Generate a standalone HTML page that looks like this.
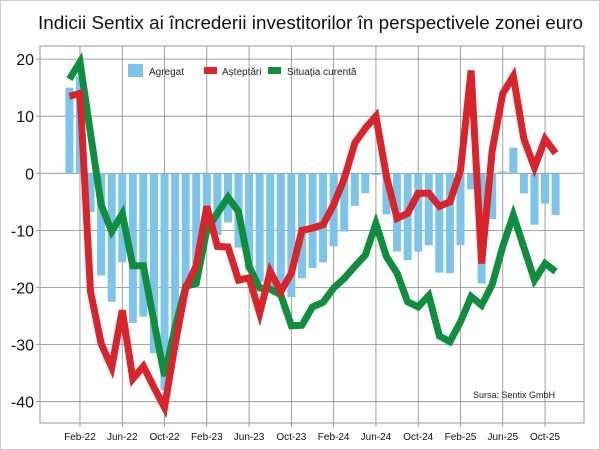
<!DOCTYPE html>
<html><head><meta charset="utf-8"><style>
html,body{margin:0;padding:0;background:#fff}
svg{display:block;font-family:"Liberation Sans",sans-serif}
</style></head><body>
<svg width="600" height="450" viewBox="0 0 600 450" xmlns="http://www.w3.org/2000/svg">
<rect x="0.5" y="0.5" width="599" height="449" fill="#fff" stroke="#ccc"/>
<text x="38" y="29" font-size="18.5" fill="#111" textLength="545" lengthAdjust="spacingAndGlyphs">Indicii Sentix ai încrederii investitorilor în perspectivele zonei euro</text>
<g id="grid" stroke="#8a8a8a" stroke-width="0.8"></g>
<rect x="40" y="46" width="544" height="377" fill="none" stroke="#999" stroke-width="1"/>
<g id="bars" fill="#7cc4ea"></g>
<g id="lines" fill="none" stroke-width="7" stroke-linejoin="miter" stroke-linecap="butt"></g>
<g id="ylab" font-size="16" fill="#111" text-anchor="end"></g>
<g id="xlab" font-size="10" fill="#111" text-anchor="middle"></g>
<rect x="128" y="64" width="15" height="13" fill="#7cc4ea"/>
<text x="149" y="75" font-size="10" fill="#222">Agregat</text>
<rect x="204" y="67" width="13" height="7" fill="#d8242a"/>
<text x="222" y="75" font-size="10" fill="#222">Așteptări</text>
<rect x="268" y="67" width="13" height="7" fill="#0f8f3e"/>
<text x="287" y="75" font-size="10" fill="#222">Situația curentă</text>
<text x="473" y="398" font-size="9" fill="#222">Sursa: Sentix GmbH</text>
</svg>
<script>
var NS="http://www.w3.org/2000/svg";
function X(i){return 69.4+10.57*i}
function Y(v){return 173.3-5.71*v}
function el(p,t,a){var e=document.createElementNS(NS,t);for(var k in a)e.setAttribute(k,a[k]);document.getElementById(p).appendChild(e);return e}
[20,10,0,-10,-20,-30,-40].forEach(function(v){el("grid","line",{x1:40,x2:584,y1:Y(v),y2:Y(v)});el("grid","line",{x1:36,x2:40,y1:Y(v),y2:Y(v)});
 var t=el("ylab","text",{x:34,y:Y(v)+6});t.textContent=v;});
var ml=["Feb-22","Jun-22","Oct-22","Feb-23","Jun-23","Oct-23","Feb-24","Jun-24","Oct-24","Feb-25","Jun-25","Oct-25"];
ml.forEach(function(m,k){var x=X(1+4*k);el("grid","line",{x1:x,x2:x,y1:46,y2:427});var t=el("xlab","text",{x:x,y:440});t.textContent=m;});
var bars=[15,17,-6.8,-17.9,-22.5,-15.6,-26.2,-25.1,-31.5,-38,-28,-20,-16,-9,-10.8,-8.6,-13,-17,-19,-20,-21,-21.7,-18.4,-16.6,-15.6,-12.8,-10.2,-5.7,-3.5,-0.3,-7.2,-13.7,-15.2,-13.7,-12.6,-17.4,-17.5,-12.6,-2.8,-19.3,-8,0.3,4.5,-3.5,-9,-5.3,-7.3];
bars.forEach(function(v,i){var y0=Y(0),y1=Y(v);el("bars","rect",{x:X(i)-4,y:Math.min(y0,y1),width:8,height:Math.abs(y1-y0)});});
var red=[13.5,14,-20.7,-29.8,-34,-24,-36,-33.8,-37.5,-41,-30,-20.1,-16.2,-5.8,-12.8,-12.9,-18.7,-18.3,-24.5,-17.2,-20.7,-17.5,-10,-9.6,-9,-5.5,-1,5.3,7.9,10,-0.6,-7.9,-7,-3.5,-3.5,-5.8,-5,0.5,18,-15.8,4,14,17,6,1,6,3.5];
var green=[16.5,19.5,7,-5.5,-10.2,-7.1,-16.2,-16.2,-26,-35.5,-27,-19.8,-19.3,-9.9,-7,-4.2,-6.7,-16.3,-20.1,-20.3,-21.3,-26.7,-26.6,-23.4,-22.6,-20.1,-18.4,-16.3,-14.3,-8.8,-14.6,-17.5,-22.5,-23.4,-21.4,-28.5,-29.5,-26,-21.6,-23.1,-19.5,-12.8,-7.3,-13,-18.7,-15.8,-17.2];
function pts(a){return a.map(function(v,i){return X(i).toFixed(1)+","+Y(v).toFixed(1)}).join(" ")}
el("lines","polyline",{points:pts(green),stroke:"#0f8f3e"});
el("lines","polyline",{points:pts(red),stroke:"#d8242a"});
</script>
</body></html>
